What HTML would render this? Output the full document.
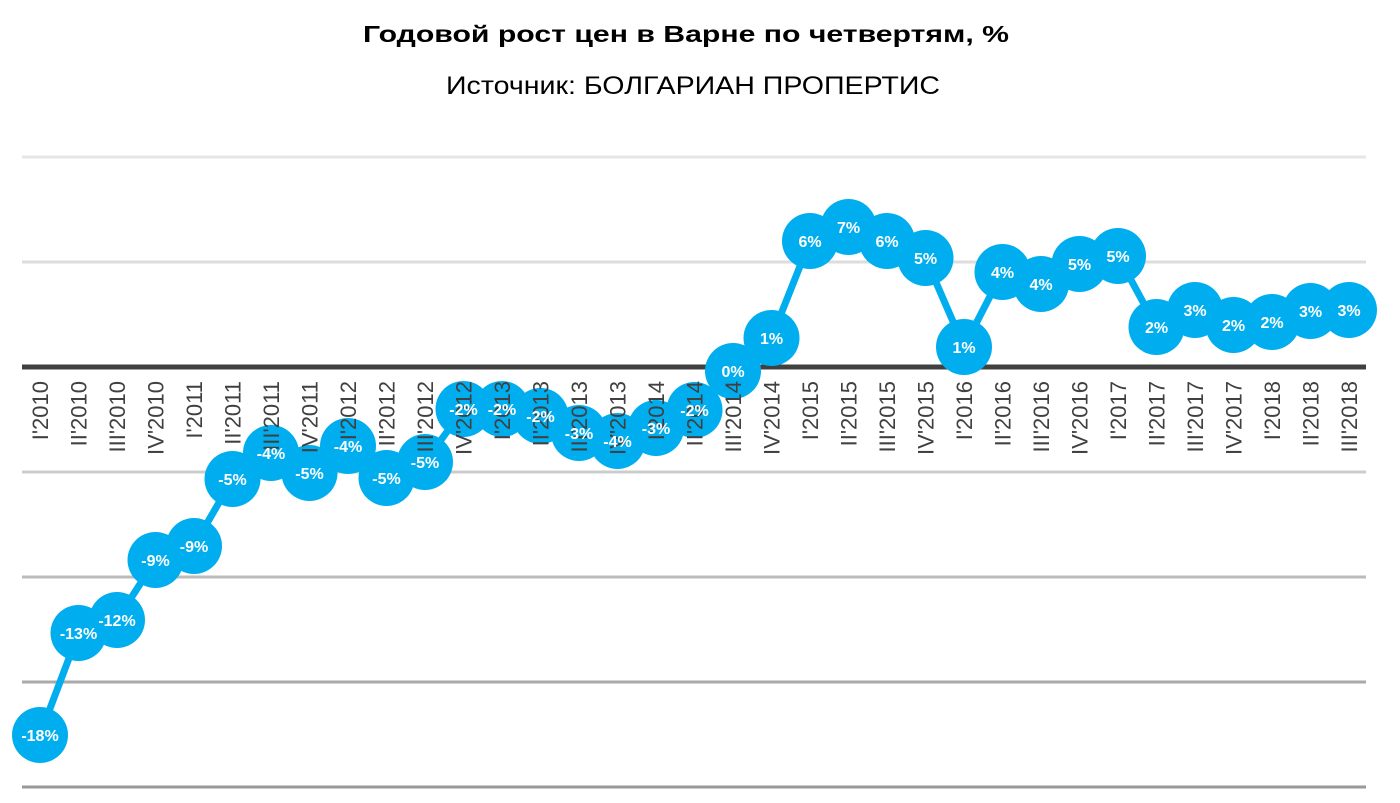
<!DOCTYPE html>
<html><head><meta charset="utf-8"><style>html,body{margin:0;padding:0;background:#fff}svg{display:block}</style></head><body>
<svg width="1400" height="803" viewBox="0 0 1400 803" xmlns="http://www.w3.org/2000/svg" font-family="Liberation Sans, DejaVu Sans, sans-serif">
<text x="686" y="42" text-anchor="middle" font-size="23" font-weight="bold" fill="#000" textLength="646" lengthAdjust="spacingAndGlyphs">Годовой рост цен в Варне по четвертям, %</text>
<text x="693" y="94" text-anchor="middle" font-size="25" fill="#000" textLength="494" lengthAdjust="spacingAndGlyphs">Источник: БОЛГАРИАН ПРОПЕРТИС</text>
<g stroke-width="3">
<line x1="22" x2="1366" y1="157" y2="157" stroke="#e6e6e6"/>
<line x1="22" x2="1366" y1="262" y2="262" stroke="#dddddd"/>
<line x1="22" x2="1366" y1="472" y2="472" stroke="#cccccc"/>
<line x1="22" x2="1366" y1="577" y2="577" stroke="#bbbbbb"/>
<line x1="22" x2="1366" y1="682" y2="682" stroke="#aaaaaa"/>
<line x1="22" x2="1366" y1="787" y2="787" stroke="#999999"/>
</g>
<line x1="22" x2="1366" y1="367" y2="367" stroke="#404040" stroke-width="5"/>
<polyline id="ln" fill="none" stroke="#00aeef" stroke-width="7" stroke-linejoin="round"/>
<g id="pts"></g>
<g id="labels" font-size="22" fill="#404040" text-anchor="end"></g>
<g id="vals"></g>
</svg>
<script>
var names=["I'2010","II'2010","III'2010","IV'2010","I'2011","II'2011","III'2011","IV'2011","I'2012","II'2012","III'2012","IV'2012","I'2013","II'2013","III'2013","IV'2013","I'2014","II'2014","III'2014","IV'2014","I'2015","II'2015","III'2015","IV'2015","I'2016","II'2016","III'2016","IV'2016","I'2017","II'2017","III'2017","IV'2017","I'2018","II'2018","III'2018"];
var ys=[735,633,620,560,546,479,453,473,446,478,462,409,409,416,433,441,428,410,371,338,241,227,241,258,347,272,284,264,256,327,310,325,322,311,310];
var vs=["-18%","-13%","-12%","-9%","-9%","-5%","-4%","-5%","-4%","-5%","-5%","-2%","-2%","-2%","-3%","-4%","-3%","-2%","0%","1%","6%","7%","6%","5%","1%","4%","4%","5%","5%","2%","3%","2%","2%","3%","3%"];
var NS="http://www.w3.org/2000/svg",L=document.getElementById('labels'),P=document.getElementById('pts'),V=document.getElementById('vals'),pts=[];
for(var i=0;i<35;i++){var x=40+i*(1349-40)/34;pts.push(x+","+ys[i]);
var t=document.createElementNS(NS,'text');t.setAttribute('transform','translate('+(x+8)+',381) rotate(-90)');t.textContent=names[i];L.appendChild(t);
var c=document.createElementNS(NS,'circle');c.setAttribute('cx',x);c.setAttribute('cy',ys[i]);c.setAttribute('r',28);c.setAttribute('fill','#00aeef');P.appendChild(c);
var v=document.createElementNS(NS,'text');v.setAttribute('x',x);v.setAttribute('y',ys[i]+6);v.setAttribute('text-anchor','middle');v.setAttribute('font-size','16');v.setAttribute('font-weight','bold');v.setAttribute('fill','#fff');v.textContent=vs[i];V.appendChild(v);}
document.getElementById('ln').setAttribute('points',pts.join(' '));
</script>
</body></html>
